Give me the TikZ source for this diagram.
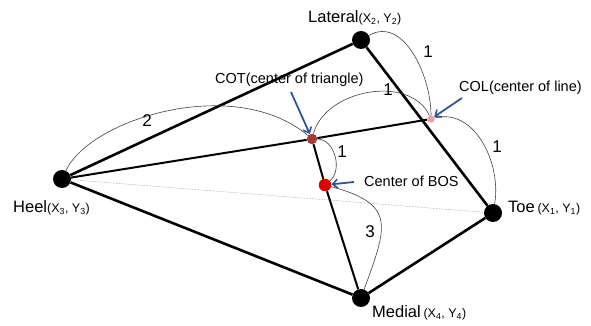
\documentclass[tikz,border=0pt]{standalone}
\usepackage{fontspec}
\setmainfont{Liberation Sans}
\usepackage{xcolor}
\usepackage{tikz}
\usetikzlibrary{arrows.meta, positioning}

\definecolor{cotred}{HTML}{A83A3A}
\definecolor{colpink}{HTML}{E8A2A8}
\definecolor{bosred}{HTML}{DD0000}
\definecolor{pointer}{HTML}{2F5597}

\newcommand{\xycoord}[2]{{\fontsize{12.5}{14}\selectfont(X\textsubscript{#1}, Y\textsubscript{#2})}}

\begin{document}
\begin{tikzpicture}[x=1pt, y=1pt,
			corner/.style={circle, fill=black, inner sep=0pt, minimum size=18pt},
			center/.style={circle, inner sep=0pt},
			side/.style={line width=2.6pt},
			axis/.style={line width=2pt},
			diag/.style={gray, line width=0.5pt, densely dotted},
			span/.style={black!75, line width=0.6pt},
			pointarrow/.style={-{Straight Barb[length=5pt, width=9pt, line width=1.6pt]}, pointer, line width=1.8pt},
			ptname/.style={anchor=base west, inner sep=0pt, font=\fontsize{16.5}{19}\selectfont},
			callout/.style={anchor=base west, inner sep=0pt, font=\fontsize{14.5}{17}\selectfont},
			num/.style={inner sep=0pt, font=\fontsize{17}{19}\selectfont},
			]
			\useasboundingbox (0,0) rectangle (591,326);
			
			% ---- foot points ----
			\node[corner] (lat) at (361,286) {};
			\node[corner] (heel) at (62,147) {};
			\node[corner] (toe) at (493,113) {};
			\node[corner] (med) at (361,28) {};
			\node[center, fill=cotred, minimum size=10.5pt] (cot) at (312,187) {};
			\node[center, fill=colpink, minimum size=7.5pt] (col) at (431,207) {};
			\node[center, fill=bosred, minimum size=12.5pt] (bos) at (325,141) {};
			
			% ---- outline and axes ----
			\draw[side] (heel) -- (lat);
			\draw[side] (lat) -- (toe);
			\draw[side] (toe) -- (med);
			\draw[side] (med) -- (heel);
			\draw[axis] (heel) -- (cot);
			\draw[axis] (cot) -- (col);
			\draw[axis] (cot) -- (bos);
			\draw[axis] (bos) -- (med);
			\draw[diag] (heel) -- (toe);
			
			% ---- distance arcs ----
			\draw[span] (lat) to[out=30, in=90] (col);
			\draw[span] (cot) to[out=75, in=115] (col);
			\draw[span] (heel) to[out=65, in=140, out looseness=0.6, in looseness=1] (cot);
			\draw[span] (col) to[out=15, in=80] (toe);
			\draw[span] (cot) to[out=0, in=40] (bos);
			\draw[span] (bos) to[out=-15, in=70, looseness=1.6] (med);
			\node[num] (d1) at (428,274) {1};
			\node[num] (d2) at (388,236) {1};
			\node[num] (d3) at (147,205) {2};
			\node[num] (d4) at (497,179) {1};
			\node[num] (d5) at (342,174) {1};
			\node[num] (d6) at (370,94) {3};
			
			% ---- names ----
			\node[ptname] (latname) at (308,303) {Lateral\xycoord{2}{2}};
			\node[ptname] (heelname) at (13,113) {Heel\xycoord{3}{3}};
			\node[ptname] (toename) at (508,113) {Toe\,\xycoord{1}{1}};
			\node[ptname] (medname) at (372,8) {Medial\,\xycoord{4}{4}};
			
			% ---- callouts ----
			\node[callout] (cotname) at (215,242) {COT(center of triangle)};
			\node[callout] (colname) at (459,234) {COL(center of line)};
			\node[callout] (bosname) at (364,139) {Center of BOS};
			\coordinate (cottail) at (291,234);
			\coordinate (coltail) at (462,228);
			\coordinate (bostail) at (354,144);
			\draw[pointarrow] (cottail) -- (cot);
			\draw[pointarrow] (coltail) -- (col);
			\draw[pointarrow] (bostail) -- (bos);
			
		\end{tikzpicture}
\end{document}
